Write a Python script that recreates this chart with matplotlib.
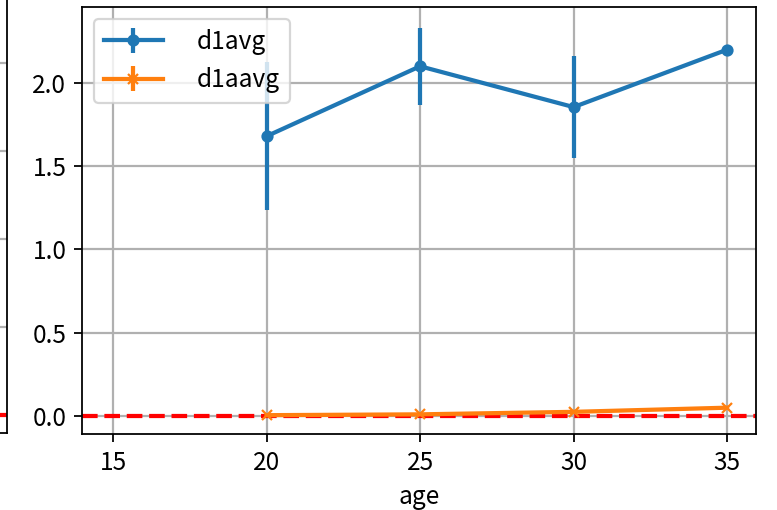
import matplotlib
matplotlib.use("Agg")
import matplotlib.pyplot as plt

plt.rcParams['font.family'] = ['Noto Sans CJK SC', 'DejaVu Sans']
plt.rcParams['axes.unicode_minus'] = False
plt.rcParams['font.size'] = 11
plt.rcParams['lines.linewidth'] = 1.9
plt.rcParams['grid.linewidth'] = 1.0

# data
age = [20, 25, 30, 35]
d1avg = [1.68, 2.10, 1.855, 2.20]
d1avg_err = [0.445, 0.23, 0.305, 0.0]
d1aavg = [0.005, 0.01, 0.025, 0.05]
d1aavg_err = [0.0, 0.0, 0.0, 0.0]
xticks = [15, 20, 25, 30, 35]
yticks = [0.0, 0.5, 1.0, 1.5, 2.0]

dpi = 160
fig = plt.figure(figsize=(777 / dpi, 510 / dpi), dpi=dpi)

# neighbouring subplot, cut off at the left edge
ax0 = fig.add_axes([-0.6, 0.151, 0.609, 0.95])
ax0.set_ylim(-0.21, 5.3)
ax0.set_yticks([0, 1, 2, 3, 4])
ax0.set_yticklabels([])
ax0.set_xticks([])
ax0.grid(True)
ax0.axhline(0, color='red', linestyle='--')

ax = fig.add_axes([82 / 777, 1 - 434 / 510, (756 - 82) / 777, (434 - 7) / 510])
ax.errorbar(age, d1avg, yerr=d1avg_err, marker='o', markersize=4.5, label='d1avg')
ax.errorbar(age, d1aavg, yerr=d1aavg_err, marker='x', markersize=4.5, label='d1aavg')
ax.axhline(0, color='red', linestyle='--')

ax.set_xlim(13.99, 35.94)
ax.set_ylim(-0.108, 2.456)
ax.set_xticks(xticks)
ax.set_yticks(yticks)
ax.set_yticklabels([f'{v:.1f}' for v in yticks])
ax.set_xlabel('age')
ax.grid(True)
ax.legend(loc='upper left', handlelength=2.4, handletextpad=1.4)

fig.savefig('out.png', dpi=dpi)
